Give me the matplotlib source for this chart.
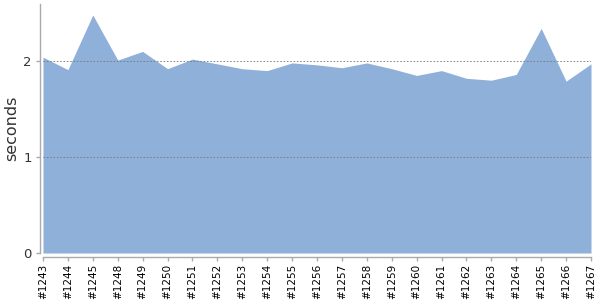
import numpy as np
import matplotlib
matplotlib.use("Agg")
import matplotlib.pyplot as plt

# build ids and durations
builds = ['#1243', '#1244', '#1245', '#1248', '#1249', '#1250', '#1251', '#1252',
          '#1253', '#1254', '#1255', '#1256', '#1257', '#1258', '#1259', '#1260',
          '#1261', '#1262', '#1263', '#1264', '#1265', '#1266', '#1267']
seconds = [2.04, 1.91, 2.48, 2.01, 2.10, 1.92, 2.02, 1.97,
           1.92, 1.90, 1.98, 1.96, 1.93, 1.98, 1.92, 1.85,
           1.90, 1.82, 1.80, 1.86, 2.34, 1.79, 1.97]
y_ticks = [0, 1, 2]

fill_color = '#8fb0d9'
axis_color = '#aaaaaa'
text_color = '#333333'

fig = plt.figure(figsize=(6, 3), dpi=100)
ax = fig.add_axes([43 / 600, 47 / 300, 548 / 600, 249 / 300])

x = np.arange(len(builds))
ax.fill_between(x, seconds, 0, color=fill_color, linewidth=0, zorder=1)

ax.set_xlim(0, len(builds) - 1)
ax.set_ylim(0, 2.594)

# dotted grid on top of the fill
for t in y_ticks[1:]:
    ax.axhline(t, color='#777777', linewidth=0.6, linestyle=(0, (2, 2)), zorder=2)

ax.tick_params(axis='both', colors=axis_color, length=3, width=1)
ax.tick_params(axis='x', labelcolor='black', pad=2, labelrotation=90, labelsize=7.5)
ax.tick_params(axis='y', labelcolor=text_color, pad=3, labelsize=9.5)
ax.set_xticks(x)
ax.set_xticklabels(builds)
ax.set_yticks(y_ticks)
ax.set_yticklabels([str(t) for t in y_ticks])

for side in ['top', 'right']:
    ax.spines[side].set_visible(False)
ax.spines['left'].set_position(('outward', 2.2))
ax.spines['bottom'].set_position(('outward', 2.9))
for side in ['left', 'bottom']:
    ax.spines[side].set_color(axis_color)
    ax.spines[side].set_linewidth(1)

ax.set_ylabel('seconds', fontsize=11.5, color=text_color, labelpad=3)

fig.savefig('out.png', dpi=100)
plt.close(fig)
